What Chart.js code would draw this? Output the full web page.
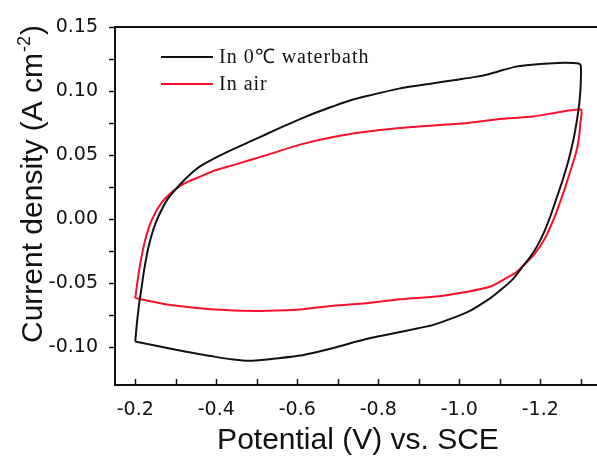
<!DOCTYPE html>
<html>
<head>
<meta charset="utf-8">
<script src="https://cdn.jsdelivr.net/npm/chart.js@4/dist/chart.umd.min.js"></script>
<style>
  html, body { margin: 0; padding: 0; background: #fff; overflow: hidden; }
  #cv { display: block; }
</style>
</head>
<body>
<canvas id="cv" width="610" height="459" style="width:610px;height:459px"></canvas>
<script>
// Cyclic voltammograms: 0 C water bath vs. air.

const SERIES_LABELS = ["In 0\u2103 waterbath", "In air"];
const SERIES_COLORS = ["#111111", "#f8102a"];

// loop in 0 C water bath: potential (V) and current density (A cm-2)
const BATH_V = [-0.200, -0.204, -0.209, -0.215, -0.222, -0.232, -0.244, -0.256, -0.279, -0.311,
                -0.340, -0.360, -0.400, -0.442, -0.484, -0.526, -0.567, -0.607, -0.650, -0.689,
                -0.730, -0.772, -0.854, -0.936, -1.000, -1.040, -1.077, -1.110, -1.140, -1.180,
                -1.220, -1.262, -1.295, -1.300,
                -1.300, -1.297, -1.291, -1.282, -1.270, -1.255, -1.238, -1.225, -1.210, -1.193,
                -1.175, -1.155, -1.133, -1.105, -1.077, -1.020, -0.936, -0.854, -0.770, -0.689,
                -0.607, -0.526, -0.480, -0.442, -0.398, -0.360, -0.279, -0.200];
const BATH_J = [-0.096, -0.082, -0.068, -0.055, -0.040, -0.023, -0.009, 0.001, 0.015, 0.027,
                0.036, 0.041, 0.048, 0.0545, 0.0605, 0.0665, 0.0725, 0.078, 0.0835, 0.088,
                0.0925, 0.096, 0.102, 0.106, 0.109, 0.111, 0.1135, 0.1165, 0.119, 0.1205,
                0.1215, 0.122, 0.1215, 0.120,
                0.106, 0.092, 0.078, 0.062, 0.046, 0.030, 0.014, 0.002, -0.010, -0.021,
                -0.030, -0.038, -0.047, -0.055, -0.062, -0.073, -0.083, -0.0885, -0.094, -0.101,
                -0.107, -0.110, -0.111, -0.110, -0.108, -0.106, -0.101, -0.096];

// loop in air
const AIR_V = [-0.200, -0.206, -0.213, -0.225, -0.242, -0.266, -0.299, -0.330, -0.360, -0.398,
               -0.442, -0.526, -0.607, -0.689, -0.770, -0.854, -0.936, -1.020, -1.100, -1.183,
               -1.300,
               -1.299, -1.295, -1.287, -1.275, -1.262, -1.249, -1.235, -1.212, -1.185, -1.160,
               -1.140, -1.118, -1.077, -1.020, -0.936, -0.854, -0.770, -0.689, -0.607, -0.526,
               -0.442, -0.398, -0.360, -0.279, -0.200];
const AIR_J = [-0.062, -0.048, -0.034, -0.016, 0.000, 0.013, 0.023, 0.029, 0.033, 0.038,
               0.042, 0.050, 0.058, 0.064, 0.068, 0.071, 0.073, 0.075, 0.078, 0.080,
               0.0855,
               0.075, 0.062, 0.050, 0.038, 0.025, 0.013, 0.001, -0.015, -0.028, -0.036,
               -0.042, -0.046, -0.053, -0.057, -0.061, -0.063, -0.066, -0.068, -0.071, -0.072,
               -0.0717, -0.071, -0.070, -0.067, -0.062];

const X_TICKS = [-0.2, -0.4, -0.6, -0.8, -1.0, -1.2];
const X_MINOR = [-0.3, -0.5, -0.7, -0.9, -1.1, -1.3];
const Y_TICKS = [-0.10, -0.05, 0.00, 0.05, 0.10, 0.15];
const Y_MINOR = [-0.075, -0.025, 0.025, 0.075, 0.125];

function toPoints(xs, ys) {
  return xs.map(function (x, i) { return { x: x, y: ys[i] }; });
}

// frame, inward x ticks, outward y ticks, rotated y title and the legend
const decorPlugin = {
  id: "decor",
  afterDraw: function (chart) {
    const ctx = chart.ctx;
    const a = chart.chartArea;
    const xs = chart.scales.x, ys = chart.scales.y;
    ctx.save();
    ctx.strokeStyle = "#111";
    ctx.lineWidth = 2;
    ctx.strokeRect(a.left, a.top, a.right - a.left, a.bottom - a.top);

    ctx.lineWidth = 1.5;
    ctx.beginPath();
    X_TICKS.concat(X_MINOR).forEach(function (v) {
      const px = Math.round(xs.getPixelForValue(v)) + 0.5;
      ctx.moveTo(px, a.bottom);
      ctx.lineTo(px, a.bottom - 6);
    });
    Y_TICKS.concat(Y_MINOR).forEach(function (v) {
      const py = Math.round(ys.getPixelForValue(v)) + 0.5;
      ctx.moveTo(a.left, py);
      ctx.lineTo(a.left - 6, py);
    });
    ctx.stroke();

    // y title with superscript
    ctx.fillStyle = "#111";
    ctx.translate(42, 343);
    ctx.rotate(-Math.PI / 2);
    ctx.textBaseline = "alphabetic";
    ctx.textAlign = "left";
    ctx.font = "30px 'Liberation Sans', Arial, sans-serif";
    const t1 = "Current density (A cm";
    ctx.fillText(t1, 0, 0);
    let w = ctx.measureText(t1).width;
    ctx.font = "18px 'Liberation Sans', Arial, sans-serif";
    ctx.fillText("-2", w + 1, -12);
    w += ctx.measureText("-2").width + 2;
    ctx.font = "30px 'Liberation Sans', Arial, sans-serif";
    ctx.fillText(")", w, 0);
    ctx.restore();

    // legend
    ctx.save();
    const rows = [57, 84];
    chart.data.datasets.forEach(function (ds, i) {
      ctx.strokeStyle = ds.borderColor;
      ctx.lineWidth = 2;
      ctx.beginPath();
      ctx.moveTo(161, rows[i]);
      ctx.lineTo(213, rows[i]);
      ctx.stroke();
      ctx.fillStyle = "#111";
      ctx.font = "20px 'Liberation Serif', 'Times New Roman', serif";
      ctx.letterSpacing = "1px";
      ctx.textBaseline = "middle";
      ctx.fillText(ds.label, 219, rows[i] + 1);
    });
    ctx.restore();
  }
};

new Chart(document.getElementById("cv"), {
  type: "scatter",
  data: {
    datasets: [
      { label: SERIES_LABELS[0], data: toPoints(BATH_V, BATH_J), borderColor: SERIES_COLORS[0],
        showLine: true, pointRadius: 0, borderWidth: 2, tension: 0.2 },
      { label: SERIES_LABELS[1], data: toPoints(AIR_V, AIR_J), borderColor: SERIES_COLORS[1],
        showLine: true, pointRadius: 0, borderWidth: 2, tension: 0.2 }
    ]
  },
  options: {
    responsive: false,
    animation: false,
    layout: { padding: { top: 27, right: 9, bottom: 0, left: 0 } },
    plugins: { legend: { display: false }, tooltip: { enabled: false } },
    scales: {
      x: {
        type: "linear",
        reverse: true,
        min: -1.35,
        max: -0.15,
        afterBuildTicks: function (s) { s.ticks = X_TICKS.map(function (v) { return { value: v }; }); },
        afterFit: function (s) { s.height = 74; },
        grid: { display: false },
        border: { display: false },
        ticks: {
          autoSkip: false, maxRotation: 0, padding: 6, color: "#111",
          font: { family: "'DejaVu Sans', sans-serif", size: 19 },
          callback: function (v) { return Number(v).toFixed(1); }
        },
        title: {
          display: true, text: "Potential (V) vs. SCE", color: "#111",
          font: { family: "'Liberation Sans', Arial, sans-serif", size: 30 },
          padding: { top: 0, bottom: 0 }
        }
      },
      y: {
        min: -0.13,
        max: 0.15,
        afterBuildTicks: function (s) { s.ticks = Y_TICKS.map(function (v) { return { value: v }; }); },
        afterFit: function (s) { s.width = 115; },
        grid: { display: false },
        border: { display: false },
        ticks: {
          autoSkip: false, padding: 9, color: "#111",
          font: { family: "'DejaVu Sans', sans-serif", size: 19 },
          callback: function (v) { return Number(v).toFixed(2); }
        }
      }
    }
  },
  plugins: [decorPlugin]
});
</script>
</body>
</html>
